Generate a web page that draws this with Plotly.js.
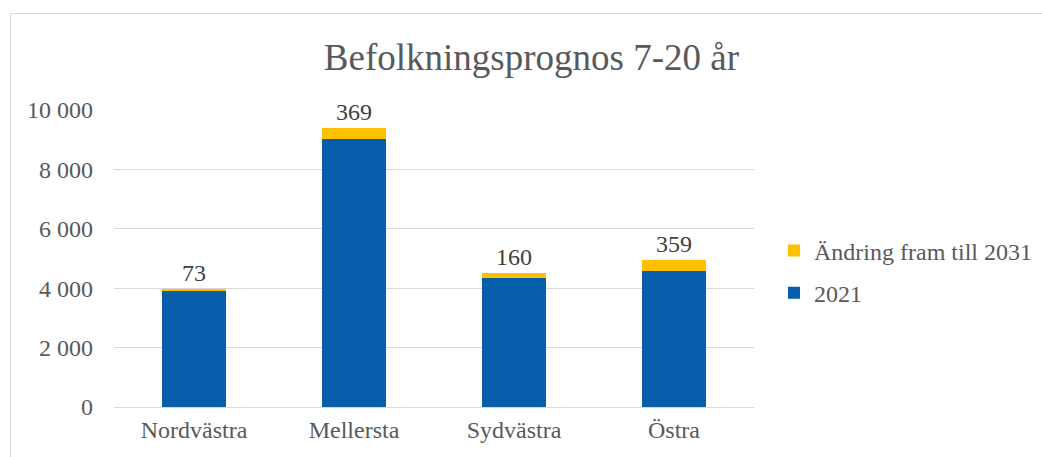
<!DOCTYPE html>
<html>
<head>
<meta charset="utf-8">
<script src="https://cdn.plot.ly/plotly-3.0.1.min.js"></script>
<style>
  body { margin: 0; background: #fff; }
  #wrap { position: relative; width: 1042px; height: 457px; overflow: hidden; }
  #frame { position: absolute; left: 10px; top: 13px; width: 1100px; height: 500px;
           border-left: 1px solid #d9d9d9; border-top: 1px solid #d9d9d9; }
  #chart { position: absolute; left: 0; top: 0; width: 1042px; height: 457px; }
</style>
</head>
<body>
<div id="wrap">
  <div id="frame"></div>
  <div id="chart"></div>
</div>
<script>
// regions
const categories = ["Nordvästra", "Mellersta", "Sydvästra", "Östra"];
// population aged 7-20 in 2021
const values2021 = [3900, 9040, 4350, 4580];
// change until 2031
const change2031 = [73, 369, 160, 359];
const yTicks = [0, 2000, 4000, 6000, 8000, 10000];

const textColor = "#595959";
const font = "Liberation Serif, Times New Roman, serif";

const traces = [
    {
        x: categories,
        y: values2021,
        name: "2021",
        type: "bar",
        marker: {color: "#065DA9"},
        legendgroup: "a",
        legendrank: 2,
        hoverinfo: "x+y"
    },
    {
        x: categories,
        y: change2031,
        name: "Ändring fram till 2031",
        type: "bar",
        marker: {color: "#FFC000"},
        legendgroup: "b",
        legendrank: 1,
        text: change2031.map(String),
        textposition: "outside",
        textfont: {family: font, size: 24, color: "#404040"},
        cliponaxis: false,
        hoverinfo: "x+y"
    }
];

const layout = {
    width: 1042,
    height: 457,
    paper_bgcolor: "rgba(0,0,0,0)",
    plot_bgcolor: "rgba(0,0,0,0)",
    separators: ", ",
    barmode: "stack",
    bargap: 0.6,
    margin: {l: 114, r: 288, t: 110, b: 50},
    font: {family: font, size: 24, color: textColor},
    title: {
        text: "Befolkningsprognos 7-20 år",
        font: {family: font, size: 37, color: textColor},
        x: 0.51, xanchor: "center",
        y: 0.875, yanchor: "middle"
    },
    xaxis: {
        showgrid: false,
        showline: false,
        ticks: "",
        tickfont: {family: font, size: 24, color: textColor},
        ticklabelstandoff: 6
    },
    yaxis: {
        range: [0, 10000],
        tickvals: yTicks,
        tickformat: ",d",
        showgrid: true,
        gridcolor: "#d9d9d9",
        gridwidth: 1,
        zeroline: true,
        zerolinecolor: "#d9d9d9",
        showline: false,
        ticks: "",
        ticklabelstandoff: 20,
        tickfont: {family: font, size: 24, color: textColor}
    },
    showlegend: true,
    legend: {
        xref: "container",
        yref: "container",
        x: 774 / 1042,
        xanchor: "left",
        y: 1 - 272 / 457,
        yanchor: "middle",
        traceorder: "grouped",
        tracegroupgap: 8,
        font: {family: font, size: 24, color: textColor},
        itemwidth: 30,
        bgcolor: "rgba(0,0,0,0)"
    }
};

Plotly.newPlot("chart", traces, layout, {displayModeBar: false, staticPlot: true});
</script>
</body>
</html>
